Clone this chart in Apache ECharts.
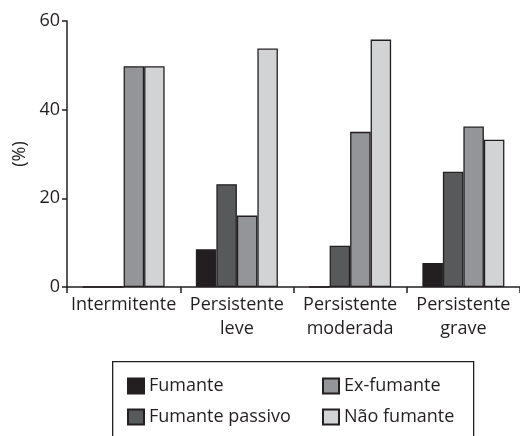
<!DOCTYPE html>
<html><head><meta charset="utf-8">
<script src="https://cdn.jsdelivr.net/npm/echarts@6/dist/echarts.min.js"></script>
<style>html,body{margin:0;padding:0;background:#fff}#c{width:520px;height:436px}</style>
</head><body><div id="c"></div>
<script>
const categories = ['Intermitente', 'Persistente\nleve', 'Persistente\nmoderada', 'Persistente\ngrave'];
const seriesNames = ['Fumante', 'Fumante passivo', 'Ex-fumante', 'Não fumante'];
const fumante = [0, 8.5, 0, 5.4];
const fumantePassivo = [0, 23.2, 9.3, 26.0];
const exFumante = [49.8, 16.1, 35.0, 36.2];
const naoFumante = [49.8, 53.8, 55.8, 33.2];
const yTicks = [0, 20, 40, 60];
const colors = ['#231f20', '#58595b', '#939598', '#d1d3d4'];

const values = [fumante, fumantePassivo, exFumante, naoFumante];
const ink = '#231f20';
const font = 'Open Sans';
const chart = echarts.init(document.getElementById('c'));
chart.setOption({
  animation: false,
  textStyle: { fontFamily: font, color: ink },
  grid: { left: 67, right: 0, top: 21, bottom: 149, containLabel: false },
  graphic: [{
    type: 'rect', left: 112, top: 361, z: -1,
    shape: { width: 361, height: 100 },
    style: { fill: '#fff', stroke: ink, lineWidth: 1.3 }
  }],
  legend: [
    { data: [seriesNames[0], seriesNames[1]], orient: 'vertical', left: 127, top: 377, padding: 0,
      itemWidth: 16, itemHeight: 15, itemGap: 13, icon: 'rect',
      textStyle: { fontFamily: font, fontSize: 18, color: ink } },
    { data: [seriesNames[2], seriesNames[3]], orient: 'vertical', left: 322, top: 377, padding: 0,
      itemWidth: 16, itemHeight: 15, itemGap: 13, icon: 'rect',
      textStyle: { fontFamily: font, fontSize: 18, color: ink } }
  ],
  xAxis: {
    type: 'category', data: categories,
    axisLine: { lineStyle: { color: ink, width: 1.5 } },
    axisTick: { show: true, length: 6, lineStyle: { color: ink, width: 1.5 } },
    axisLabel: { fontFamily: font, fontSize: 18, color: ink, lineHeight: 24, margin: 6, interval: 0 }
  },
  yAxis: {
    type: 'value', min: yTicks[0], max: yTicks[yTicks.length - 1], interval: 20,
    name: '(%)', nameLocation: 'middle', nameGap: 38, nameRotate: 90,
    nameTextStyle: { fontFamily: font, fontSize: 18, color: ink },
    splitLine: { show: false },
    axisLine: { show: true, lineStyle: { color: ink, width: 1.5 } },
    axisTick: { show: true, length: 5, lineStyle: { color: ink, width: 1.5 } },
    axisLabel: { fontFamily: font, fontSize: 18, color: ink, margin: 7 }
  },
  series: seriesNames.map((n, i) => ({
    name: n, type: 'bar', data: values[i], barWidth: 20.5, barGap: '0%',
    itemStyle: { color: colors[i], borderColor: ink, borderWidth: 1.3 }
  }))
});
</script></body></html>
